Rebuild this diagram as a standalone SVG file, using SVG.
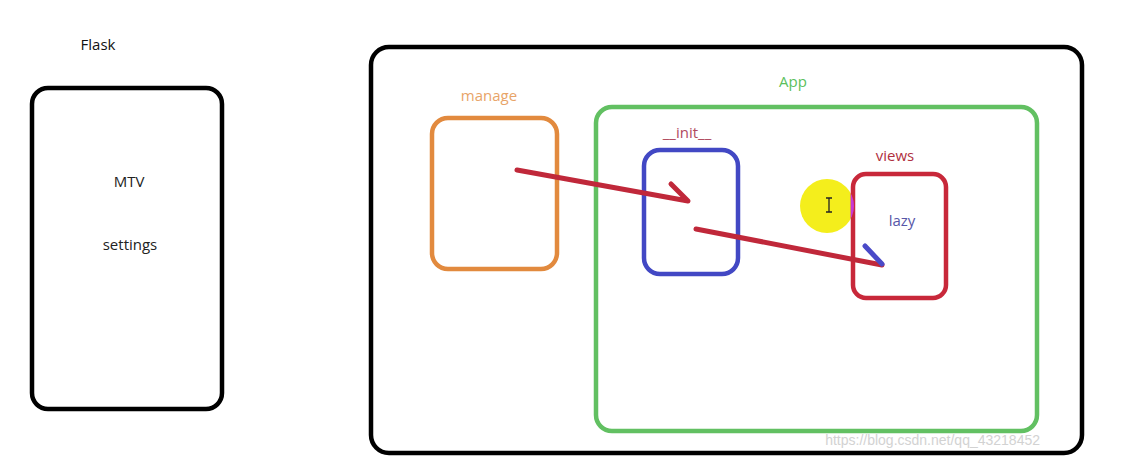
<svg xmlns="http://www.w3.org/2000/svg" width="1122" height="460" viewBox="0 0 1122 460">
<style>
.t{font-family:"Open Sans","Noto Sans",sans-serif;font-size:15px;text-anchor:middle}
.box{fill:none;stroke-width:4.5}
.ink{fill:none;stroke-width:5;stroke-linecap:round;stroke-linejoin:round}
</style>
<defs><clipPath id="cc"><circle cx="827" cy="206" r="27"/></clipPath></defs>
<rect width="1122" height="460" fill="#ffffff"/>
<g id="flask">
<text class="t" x="98" y="50" fill="#111">Flask</text>
<rect class="box" x="32" y="88" width="190" height="321" rx="16" stroke="#000"/>
<text class="t" x="129" y="187" fill="#222">MTV</text>
<text class="t" x="130" y="250" fill="#222">settings</text>
</g>
<g id="outer">
<rect class="box" x="371" y="47" width="711" height="406" rx="18" stroke="#000"/>
</g>
<g id="app">
<text class="t" x="793" y="87" fill="#5cbf5c">App</text>
<rect class="box" x="596" y="107" width="441" height="324" rx="16" stroke="#62c062"/>
</g>
<g id="manage">
<text class="t" x="489" y="101" fill="#e8a468">manage</text>
<rect class="box" x="432" y="118" width="125" height="151" rx="16" stroke="#e28a3e"/>
</g>
<g id="init">
<text class="t" x="687" y="138" fill="#b04a5e">__init__</text>
<rect class="box" x="644" y="150" width="94" height="124" rx="16" stroke="#4248c4"/>
</g>
<circle cx="827" cy="206" r="27" fill="#f4ee1c"/>
<g id="views">
<text class="t" x="895" y="161" fill="#b03040">views</text>
<rect class="box" x="853" y="174" width="93" height="124" rx="13" stroke="#c8283a"/>
<path d="M853 185V230" fill="none" stroke="#c838d8" stroke-width="4.5" clip-path="url(#cc)"/>
<text class="t" x="902" y="226" fill="#5656a8">lazy</text>
</g>
<g id="cursor" stroke="#222" stroke-width="1.3" fill="none">
<path d="M829 198V212M826 198H832M826 212H832"/>
</g>
<g id="connectors">
<path class="ink" stroke="#c0283a" d="M517 170L688 201L671 184"/>
<path class="ink" stroke="#c0283a" d="M696 229L882 265"/>
<path class="ink" stroke="#4a4ac8" d="M865 246L882 264"/>
</g>
<text x="1040" y="445" font-family="Liberation Sans,sans-serif" font-size="14" fill="#c8c8c8" text-anchor="end" opacity="0.8">https://blog.csdn.net/qq_43218452</text>
</svg>
